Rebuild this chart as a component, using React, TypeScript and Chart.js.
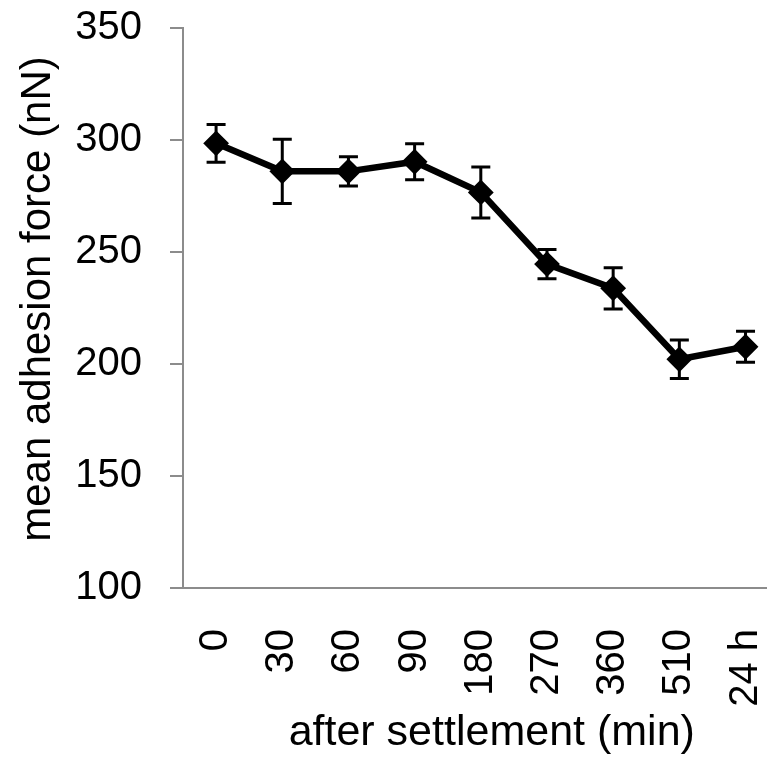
import React, { useEffect, useRef } from "react";
import { Chart, registerables } from "chart.js";

Chart.register(...registerables);

// ---- data ----
const categories = ["0", "30", "60", "90", "180", "270", "360", "510", "24 h"];
const meanForce = [298.5, 286, 286, 290.3, 276.6, 244.6, 233.8, 202.1, 207.7];
const errorSD = [8.4, 14.3, 6.5, 8, 11.4, 6.5, 9.2, 8.6, 6.9];
const yTicks = [100, 150, 200, 250, 300, 350];

const FONT = "'Liberation Sans', Arial, Helvetica, sans-serif";
const AXIS_GRAY = "#8c8c8c";
const CAP_HALF = 9.5;

const errorBarPlugin = {
  id: "errorBars",
  beforeDatasetsDraw(chart: any) {
    const { ctx } = chart;
    const x = chart.scales.x;
    const y = chart.scales.y;
    ctx.save();
    ctx.strokeStyle = "#000";
    ctx.lineWidth = 3;
    ctx.lineCap = "butt";
    meanForce.forEach((v, i) => {
      const px = x.getPixelForValue(i);
      const top = y.getPixelForValue(v + errorSD[i]);
      const bot = y.getPixelForValue(v - errorSD[i]);
      ctx.beginPath();
      ctx.moveTo(px, top);
      ctx.lineTo(px, bot);
      ctx.moveTo(px - CAP_HALF, top);
      ctx.lineTo(px + CAP_HALF, top);
      ctx.moveTo(px - CAP_HALF, bot);
      ctx.lineTo(px + CAP_HALF, bot);
      ctx.stroke();
    });
    ctx.restore();
  },
};

// shift a scale's title slightly (title stays drawn by the scale itself)
function shiftTitle(s: any, dx: number, dy: number) {
  if (s.__titleShifted) return;
  s.__titleShifted = true;
  const orig = Object.getPrototypeOf(s).drawTitle;
  s.drawTitle = function () {
    const ctx = this.ctx;
    ctx.save();
    ctx.translate(dx, dy);
    orig.call(this);
    ctx.restore();
  };
}

export default function App() {
  const canvasRef = useRef<HTMLCanvasElement | null>(null);

  useEffect(() => {
    if (!canvasRef.current) return;
    const chart = new Chart(canvasRef.current, {
      type: "line",
      data: {
        datasets: [
          {
            data: meanForce.map((v, i) => ({ x: i, y: v })),
            borderColor: "#000",
            borderWidth: 6.5,
            pointStyle: "rectRot",
            pointRadius: 11.5,
            pointBackgroundColor: "#000",
            pointBorderColor: "#000",
            pointBorderWidth: 2,
            tension: 0,
            clip: false,
          } as any,
        ],
      },
      options: {
        responsive: false,
        animation: false,
        devicePixelRatio: 1,
        layout: { padding: { top: 28, right: 0, bottom: 0, left: 0 } },
        plugins: { legend: { display: false }, tooltip: { enabled: false } },
        scales: {
          x: {
            type: "linear",
            min: -0.5,
            max: 8.317,
            afterBuildTicks: (s: any) => {
              s.ticks = categories.map((_, i) => ({ value: i }));
            },
            afterFit: (s: any) => {
              s.height = 173;
              s.paddingLeft = 0;
              s.paddingRight = 0;
              shiftTitle(s, 17, 0);
            },
            grid: { display: false },
            border: { display: true, color: AXIS_GRAY, width: 2 },
            ticks: {
              autoSkip: false,
              minRotation: 90,
              maxRotation: 90,
              padding: 33,
              color: "#000",
              font: { family: FONT, size: 40 },
              callback: (v: any) => categories[Math.round(Number(v))] ?? "",
            },
            title: {
              display: true,
              text: "after settlement (min)",
              color: "#000",
              font: { family: FONT, size: 43 },
              padding: { top: 0, bottom: 2 },
            },
          },
          y: {
            min: 100,
            max: 350,
            afterBuildTicks: (s: any) => {
              s.ticks = yTicks.map((v) => ({ value: v }));
            },
            afterFit: (s: any) => {
              s.width = 183;
              s.paddingTop = 0;
              s.paddingBottom = 0;
              shiftTitle(s, 0, -9);
            },
            grid: {
              drawOnChartArea: false,
              drawTicks: true,
              tickLength: 13,
              color: AXIS_GRAY,
              lineWidth: 2,
            },
            border: { color: AXIS_GRAY, width: 2 },
            ticks: {
              padding: 28,
              color: "#000",
              font: { family: FONT, size: 40 },
            },
            title: {
              display: true,
              text: "mean adhesion force (nN)",
              color: "#000",
              font: { family: FONT, size: 42 },
              padding: { top: 13, bottom: 0 },
            },
          },
        },
      } as any,
      plugins: [errorBarPlugin],
    });
    return () => chart.destroy();
  }, []);

  return (
    <div style={{ position: "fixed", left: 0, top: 0, width: 780, height: 761, background: "#fff" }}>
      <canvas ref={canvasRef} width={780} height={761} style={{ display: "block" }} />
    </div>
  );
}
